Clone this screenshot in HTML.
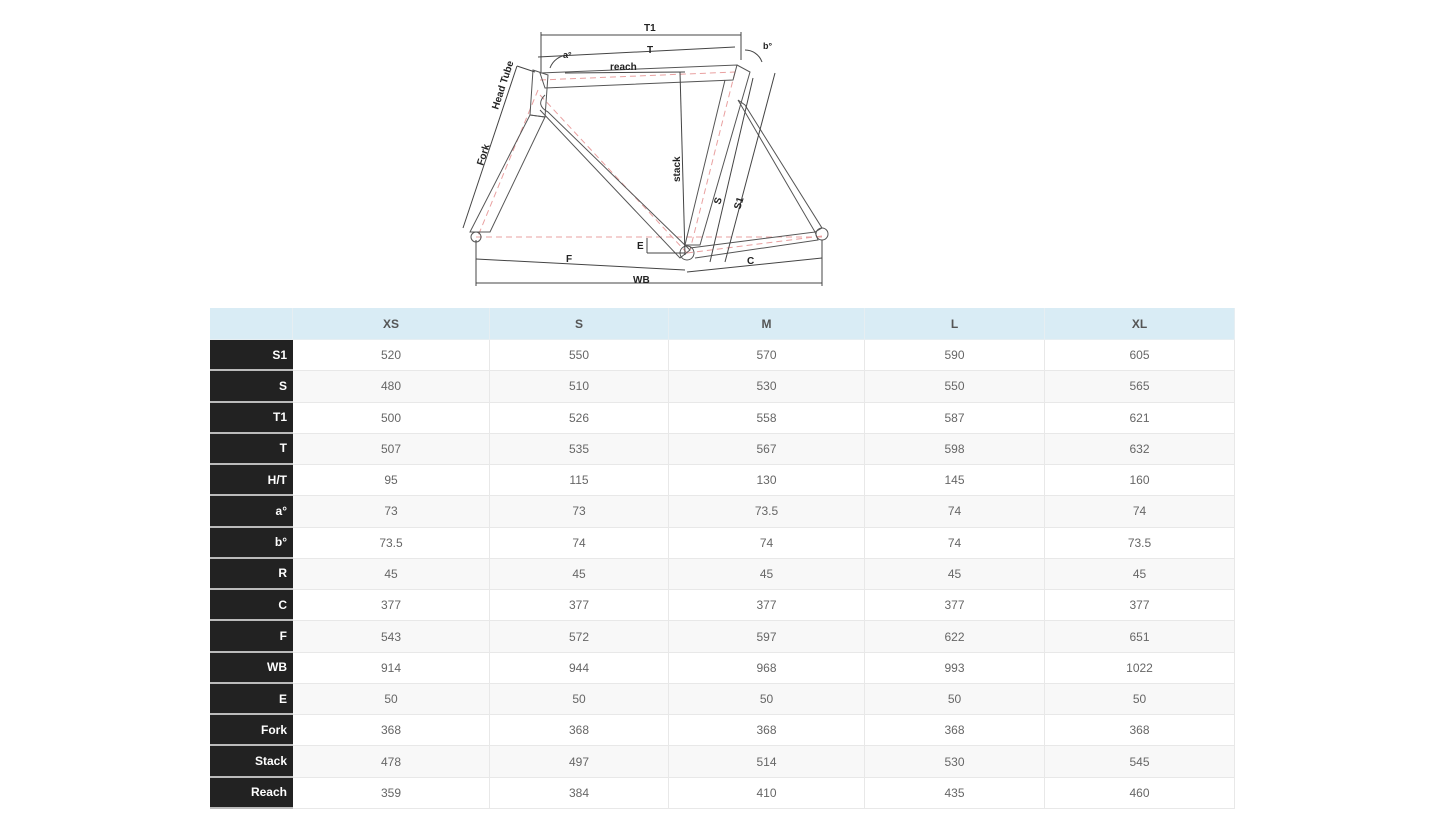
<!DOCTYPE html>
<html><head><meta charset="utf-8"><style>
body{margin:0;width:1445px;height:813px;background:#fff;font-family:"Liberation Sans",sans-serif;position:relative;overflow:hidden}
svg{position:absolute;left:0;top:0}
.g{position:absolute;left:210px;top:308px;width:1025px;display:grid;grid-template-columns:83px 197px 179px 196px 180px 190px;grid-template-rows:32px repeat(15,31.27px);font-size:12px;color:#666}
.g div{display:flex;align-items:center;justify-content:center;border-right:1px solid #e8e8e8;border-bottom:1px solid #e8e8e8;box-sizing:border-box}
.g .h{background:#d9ecf5;font-weight:bold;color:#555;border-color:#e6eef2}
.g .l{background:#222;color:#fff;font-weight:bold;justify-content:flex-end;padding-right:6px;border-bottom:2px solid #bbb;border-right:none}
.g .o{background:#f8f8f8}
</style></head><body>
<svg width="1445" height="300" viewBox="0 0 1445 300" fill="none" stroke="#555" stroke-width="1">
<g stroke="#e9a0a0" stroke-dasharray="6,4">
<line x1="476" y1="237" x2="822" y2="237"/><line x1="540" y1="80" x2="735" y2="72"/>
<line x1="540" y1="95" x2="687" y2="253"/><line x1="735" y1="72" x2="690" y2="250"/>
<line x1="687" y1="253" x2="822" y2="236"/><line x1="538" y1="90" x2="478" y2="236"/>
</g>
<path d="M540 73 L737 65 L733 80 L545 88 Z"/>
<path d="M533 70 L548 75 L545 117 L530 115 Z"/>
<path d="M530 115 L545 117 L490 232 L470 232 Z"/>
<path d="M545 95 Q535 105 548 112 L690 250 L680 258 L540 110"/>
<path d="M737 65 L750 72 L700 245 L685 245 L725 80"/>
<path d="M738 100 L745 105 L822 228 L815 232 Z"/>
<path d="M690 248 L815 232 L818 240 L695 258"/>
<circle cx="476" cy="237" r="5"/><circle cx="687" cy="253" r="7"/><circle cx="822" cy="234" r="6"/>
<g stroke="#444">
<line x1="541" y1="35" x2="741" y2="35"/><line x1="541" y1="32" x2="541" y2="72"/><line x1="741" y1="32" x2="741" y2="60"/>
<line x1="538" y1="57" x2="735" y2="47"/>
<line x1="565" y1="73" x2="685" y2="72"/><line x1="680" y1="72" x2="685" y2="255"/>
<line x1="476" y1="283" x2="822" y2="283"/><line x1="476" y1="240" x2="476" y2="286"/><line x1="822" y1="240" x2="822" y2="286"/>
<line x1="476" y1="259" x2="685" y2="270"/><line x1="687" y1="272" x2="822" y2="258"/>
<line x1="517" y1="66" x2="463" y2="228"/><line x1="517" y1="66" x2="535" y2="72"/>
<line x1="775" y1="73" x2="725" y2="262"/><line x1="753" y1="78" x2="710" y2="262"/>
<line x1="647" y1="238" x2="647" y2="253"/><line x1="647" y1="253" x2="685" y2="253"/>
<path d="M550 68 A20 20 0 0 1 568 55"/><path d="M745 50 A18 18 0 0 1 762 62"/>
</g>
<g fill="#222" stroke="none" font-weight="bold" font-size="10" font-family="Liberation Sans,sans-serif">
<text x="644" y="31">T1</text><text x="647" y="53">T</text><text x="610" y="70">reach</text>
<text x="563" y="58" font-size="9">a°</text><text x="763" y="49" font-size="9">b°</text>
<text x="566" y="262">F</text><text x="633" y="283">WB</text><text x="747" y="264">C</text><text x="637" y="249">E</text>
<text transform="translate(498,110) rotate(-72)">Head Tube</text>
<text transform="translate(483,166) rotate(-72)">Fork</text>
<text transform="translate(680,182) rotate(-90)">stack</text>
<text transform="translate(720,205) rotate(-72)">S</text>
<text transform="translate(740,210) rotate(-72)">S1</text>
</g>
</svg>
<div class="g">
<div class="h"></div><div class="h">XS</div><div class="h">S</div><div class="h">M</div><div class="h">L</div><div class="h">XL</div>
<div class="l">S1</div><div>520</div><div>550</div><div>570</div><div>590</div><div>605</div>
<div class="l">S</div><div class="o">480</div><div class="o">510</div><div class="o">530</div><div class="o">550</div><div class="o">565</div>
<div class="l">T1</div><div>500</div><div>526</div><div>558</div><div>587</div><div>621</div>
<div class="l">T</div><div class="o">507</div><div class="o">535</div><div class="o">567</div><div class="o">598</div><div class="o">632</div>
<div class="l">H/T</div><div>95</div><div>115</div><div>130</div><div>145</div><div>160</div>
<div class="l">a°</div><div class="o">73</div><div class="o">73</div><div class="o">73.5</div><div class="o">74</div><div class="o">74</div>
<div class="l">b°</div><div>73.5</div><div>74</div><div>74</div><div>74</div><div>73.5</div>
<div class="l">R</div><div class="o">45</div><div class="o">45</div><div class="o">45</div><div class="o">45</div><div class="o">45</div>
<div class="l">C</div><div>377</div><div>377</div><div>377</div><div>377</div><div>377</div>
<div class="l">F</div><div class="o">543</div><div class="o">572</div><div class="o">597</div><div class="o">622</div><div class="o">651</div>
<div class="l">WB</div><div>914</div><div>944</div><div>968</div><div>993</div><div>1022</div>
<div class="l">E</div><div class="o">50</div><div class="o">50</div><div class="o">50</div><div class="o">50</div><div class="o">50</div>
<div class="l">Fork</div><div>368</div><div>368</div><div>368</div><div>368</div><div>368</div>
<div class="l">Stack</div><div class="o">478</div><div class="o">497</div><div class="o">514</div><div class="o">530</div><div class="o">545</div>
<div class="l">Reach</div><div>359</div><div>384</div><div>410</div><div>435</div><div>460</div>
</div>
</body></html>
